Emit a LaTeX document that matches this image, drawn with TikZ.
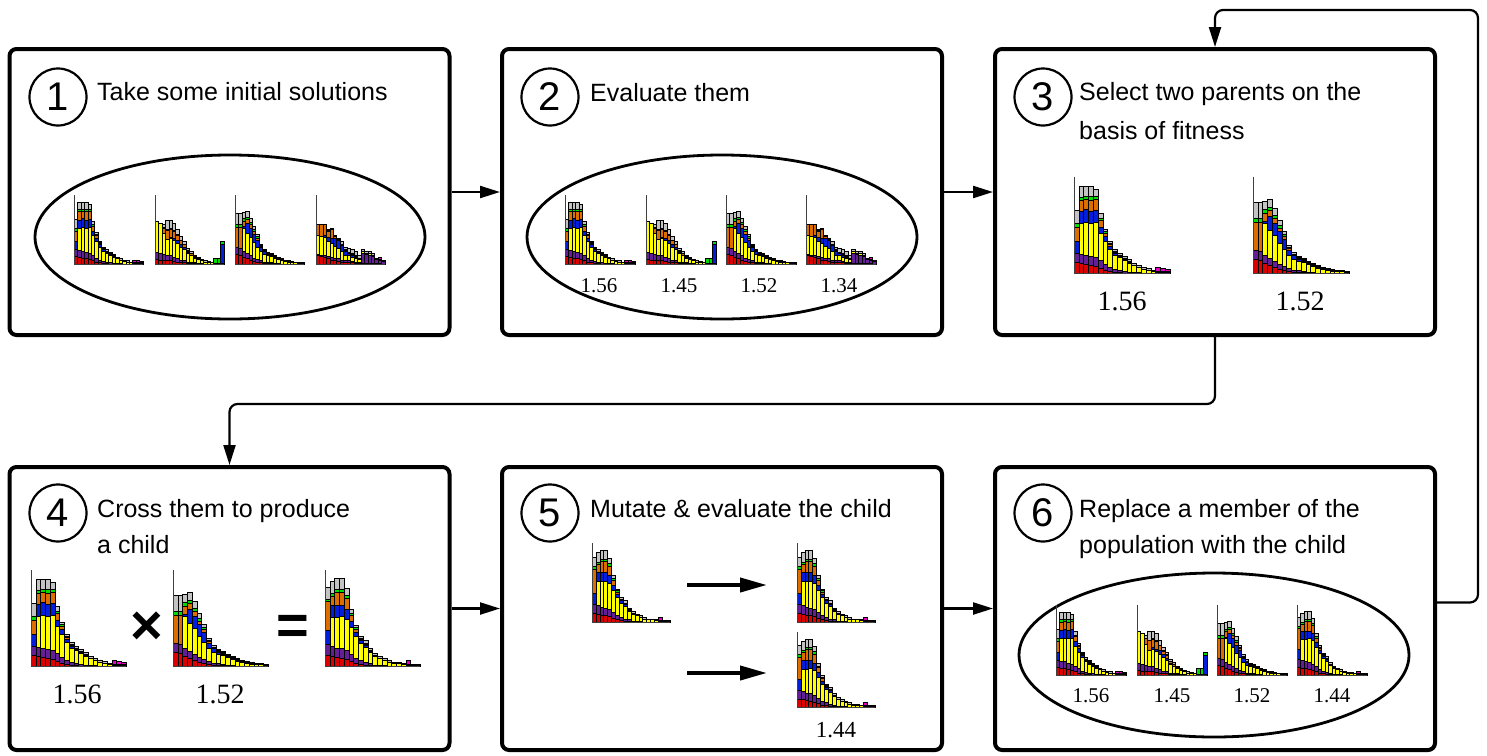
\documentclass[tikz,border=0pt]{standalone}
\usepackage{fontspec}
\setmainfont{Liberation Serif}
\newfontfamily\lsans{Liberation Sans}
\usetikzlibrary{shapes.geometric,arrows.meta}
\definecolor{hred}{RGB}{220,0,0}
\definecolor{hpurple}{RGB}{100,30,150}
\definecolor{hyellow}{RGB}{255,255,0}
\definecolor{hblue}{RGB}{0,30,220}
\definecolor{horange}{RGB}{220,110,0}
\definecolor{hgreen}{RGB}{0,220,0}
\definecolor{hgray}{RGB}{195,195,195}
\definecolor{hmag}{RGB}{230,0,200}
% bars: red/purple/yellow/blue/orange/green/gray/magenta (percent of axis height)
\def\HA{11/10/0/12/15/4/13/0, 10/10/32/12/12/3/11/0, 9/10/34/13/11/3/10/0, 8/9/35/12/12/4/10/0, 7/9/37/12/12/3/7/0, 5/8/28/7/7/2/5/0, 3/6/24/5/3/2/3/0, 2/4/19/3/2/1/2/0, 1/3/15/2/1/1/2/0, 1/2/13/1/1/1/2/0, 0/2/11/1/1/0/2/0, 0/1/9/1/1/0/2/0, 0/1/7/0/0/0/2/0, 0/1/5/0/0/0/2/0, 0/0/4/0/0/0/2/0, 0/0/3/0/0/0/2/0, 0/0/2/0/0/0/1/0, 0/0/1/0/0/0/1/4, 0/0/1/0/0/0/1/3, 0/0/1/0/0/0/1/2}
\def\HB{7/10/45/0/0/0/0/0, 6/9/44/0/0/0/0/0, 6/8/30/0/8/1/4/0, 5/7/24/0/13/1/13/0, 5/7/25/2/12/1/11/0, 4/6/24/3/11/1/10/0, 3/5/22/5/7/1/7/0, 2/4/19/4/5/1/5/0, 2/3/16/3/4/1/4/0, 1/2/12/2/2/1/3/0, 1/2/9/1/2/0/3/0, 1/1/7/1/1/0/2/0, 0/1/6/0/1/0/2/0, 0/1/4/0/0/0/2/0, 0/0/3/0/0/0/2/0, 0/0/2/0/0/0/2/0, 0/0/2/0/0/0/1/0, 0/0/1/0/0/8/0/0, 0/0/1/0/0/8/0/0, 0/0/1/27/0/5/0/0}
\def\HC{14/10/0/0/29/4/17/0, 13/10/0/0/30/4/17/0, 10/8/34/2/8/4/9/0, 8/7/30/14/6/3/9/0, 6/6/27/13/5/3/7/0, 4/5/22/12/4/3/5/0, 3/4/18/10/3/2/3/0, 2/3/13/6/2/1/2/0, 1/2/11/4/1/1/2/0, 1/2/9/2/1/1/1/0, 1/1/9/1/1/1/1/0, 0/1/8/1/0/1/1/0, 0/1/6/1/0/1/1/0, 0/0/5/1/0/1/1/0, 0/0/4/0/0/1/1/0, 0/0/3/0/0/1/1/0, 0/0/2/0/0/1/0.5/0, 0/0/2/0/0/0/1/0, 0/0/1.5/0/0/0/1/0, 0/0/1/0/0/0/1/0}
\def\HD{12/2/27/0/16/0/0/0, 11/2/27/0/17/0/0/0, 10/3/26/2/16/0/0/0, 8/3/22/6/9/1/1/0, 6/4/20/8/12/1/1/0, 5/4/17/12/2/1/1/0, 4/4/15/11/2/1/1/0, 3/3/12/9/1/1/4/0, 2/3/8/6/1/1/4/0, 2/3/7/3/1/1/6/0, 2/2/6/3/1/1/6/0, 1/2/5/2/1/1/6/0, 1/2/4/1/1/0/4/0, 1/14/3/0/0/0/3/0, 1/13/2/0/0/0/3/0, 1/12/2/0/0/0/3/0, 1/10/2/0/0/0/2/0, 1/6/1/0/0/0/1/0, 1/5/1/0/0/0/0/3, 0/4/1/0/0/0/0/1}
\def\HE{11/12/0/14/30/3/12/0, 10/11/30/12/10/3/12/0, 9/10/32/12/14/3/11/0, 8/10/34/11/14/3/11/0, 7/9/33/10/12/3/7/0, 5/7/28/7/6/2/4/0, 3/5/23/4/3/2/2/0, 2/4/18/3/1/1/2/0, 1/3/16/2/1/1/3/0, 1/2/11/1/1/0/2/0, 0/1/9/1/0/0/2/0, 0/1/7/0/0/0/2/0, 0/1/5/0/0/0/2/0, 0/0/4/0/0/0/2/0, 0/0/3/0/0/0/1/0, 0/0/3/0/0/0/1/0, 0/0/2/0/0/0/1/0, 0/0/1/0/0/0/1/4, 0/0/1/0/0/0/1/0, 0/0/1/0/0/0/1/0}
\newcommand\hseg[2]{%
  \ifdim#2pt>0pt
    \filldraw[fill=#1,draw=black,line width=0.5pt] (\hi-1,\hcur) rectangle (\hi,\hcur+#2);%
    \pgfmathsetmacro\hcur{\hcur+#2}%
  \fi}
\newcommand\drawhist[5]{%
  \pgfmathsetmacro\hbw{#3/20}%
  \pgfmathsetmacro\hbh{#4/100}%
  \begin{scope}[shift={(#1,#2)},x=\hbw pt,y=\hbh pt]
    \foreach \ra/\pa/\ya/\ba/\oa/\ga/\sa/\ma [count=\hi] in #5 {%
      \def\hcur{0}%
      \hseg{hred}{\ra}\hseg{hpurple}{\pa}\hseg{hyellow}{\ya}\hseg{hblue}{\ba}%
      \hseg{horange}{\oa}\hseg{hgreen}{\ga}\hseg{hgray}{\sa}\hseg{hmag}{\ma}%
    }
    \draw[line width=0.7pt,black!75] (0,0) -- (0,100);
    \draw[line width=0.7pt,black!75] (0,0) -- (20,0);
  \end{scope}}
\tikzset{
  box/.style={draw, line width=4pt, rounded corners=7pt, minimum width=440pt, inner sep=0},
  num/.style={draw, circle, line width=2.2pt, minimum size=57pt, inner sep=0, font=\lsans\fontsize{40}{40}\selectfont},
  title/.style={anchor=base west, inner sep=0, font=\lsans\fontsize{25}{28}\selectfont},
  pop/.style={draw, ellipse, line width=2.8pt, minimum width=390pt, minimum height=164pt, inner sep=0},
  val/.style={anchor=base, inner sep=0, font=\fontsize{21}{21}\selectfont},
  bigval/.style={anchor=base, inner sep=0, font=\fontsize{28}{28}\selectfont},
  op/.style={inner sep=0, font=\lsans\bfseries\fontsize{56}{56}\selectfont},
  conn/.style={line width=2.2pt, rounded corners=8pt, -{Triangle[length=20pt,width=12pt]}},
  bigarrow/.style={line width=4pt, -{Triangle[length=27pt,width=14pt]}}
}
\begin{document}
\begin{tikzpicture}[x=1pt,y=-1pt]
\useasboundingbox (0,0) rectangle (1487,755);
% boxes
\node[box, minimum height=286pt] (b1) at (229.5,192) {};
\node[box, minimum height=286pt] (b2) at (722,192) {};
\node[box, minimum height=286pt] (b3) at (1215,192) {};
\node[box, minimum height=283pt] (b4) at (229.5,608.5) {};
\node[box, minimum height=283pt] (b5) at (722,608.5) {};
\node[box, minimum height=283pt] (b6) at (1215,608.5) {};
% step numbers and titles
\node[num] (n1) at (58,97) {1};
\node[num] (n2) at (550,97) {2};
\node[num] (n3) at (1043,97) {3};
\node[num] (n4) at (58,513) {4};
\node[num] (n5) at (550,513) {5};
\node[num] (n6) at (1043,513) {6};
\node[title] (t1) at (97,100) {Take some initial solutions};
\node[title] (t2) at (590,101) {Evaluate them};
\node[title] (t3a) at (1079,100) {Select two parents on the};
\node[title] (t3b) at (1079,139) {basis of fitness};
\node[title] (t4a) at (97,517) {Cross them to produce};
\node[title] (t4b) at (97,553) {a child};
\node[title] (t5) at (590,517) {Mutate \& evaluate the child};
\node[title] (t6a) at (1079,517) {Replace a member of the};
\node[title] (t6b) at (1079,553) {population with the child};
% populations
\node[pop] (e1) at (230,237) {};
\node[pop] (e2) at (722,237) {};
\node[pop] (e6) at (1214,655) {};
% box 1
\drawhist{74}{264}{69}{69}{\HA}
\drawhist{155}{264}{69}{69}{\HB}
\drawhist{235}{264}{69}{69}{\HC}
\drawhist{316}{264}{69}{69}{\HD}
% box 2
\drawhist{565}{264}{70}{69}{\HA}
\drawhist{646}{264}{70}{69}{\HB}
\drawhist{726}{264}{70}{69}{\HC}
\drawhist{806}{264}{70}{69}{\HD}
\node[val] (v21) at (599,292) {1.56};
\node[val] (v22) at (679,292) {1.45};
\node[val] (v23) at (759,292) {1.52};
\node[val] (v24) at (839,292) {1.34};
% box 3
\drawhist{1074}{273}{96}{96}{\HA}
\drawhist{1253}{273}{96}{96}{\HC}
\node[bigval] (v31) at (1122,310) {1.56};
\node[bigval] (v32) at (1300,310) {1.52};
% box 4
\drawhist{31}{666}{95}{96}{\HA}
\drawhist{173}{666}{95}{96}{\HC}
\drawhist{325}{666}{95}{96}{\HE}
\node[bigval] (v41) at (77,703) {1.56};
\node[bigval] (v42) at (220,703) {1.52};
\node[op] (times) at (147,628) {×};
\node[op] (eq) at (293,630) {=};
% box 5
\drawhist{592}{622}{78}{79}{\HE}
\drawhist{797}{622}{78}{79}{\HE}
\drawhist{797}{707}{78}{75}{\HE}
\node[val, font=\fontsize{23}{23}\selectfont] (v51) at (836,737) {1.44};
\coordinate (m1a) at (687,585);
\coordinate (m1b) at (767,585);
\coordinate (m2a) at (687,673);
\coordinate (m2b) at (767,673);
\draw[bigarrow] (m1a) -- (m1b);
\draw[bigarrow] (m2a) -- (m2b);
% box 6
\drawhist{1056}{675}{70}{70}{\HA}
\drawhist{1137}{675}{70}{70}{\HB}
\drawhist{1217}{675}{70}{70}{\HC}
\drawhist{1297}{675}{70}{70}{\HE}
\node[val] (v61) at (1091,702) {1.56};
\node[val] (v62) at (1172,702) {1.45};
\node[val] (v63) at (1252,702) {1.52};
\node[val] (v64) at (1332,702) {1.44};
% connectors
\coordinate (mid) at (0,404);
\coordinate (top) at (0,10);
\coordinate (right) at (1478,0);
\draw[conn] (b1.east) -- (b2.west);
\draw[conn] (b2.east) -- (b3.west);
\draw[conn] (b3.south) |- (mid -| b4.north) -- (b4.north);
\draw[conn] (b4.east) -- (b5.west);
\draw[conn] (b5.east) -- (b6.west);
\draw[conn] ([yshift=6pt]b6.east) -| (right |- top) -| (b3.north);
\end{tikzpicture}
\end{document}
